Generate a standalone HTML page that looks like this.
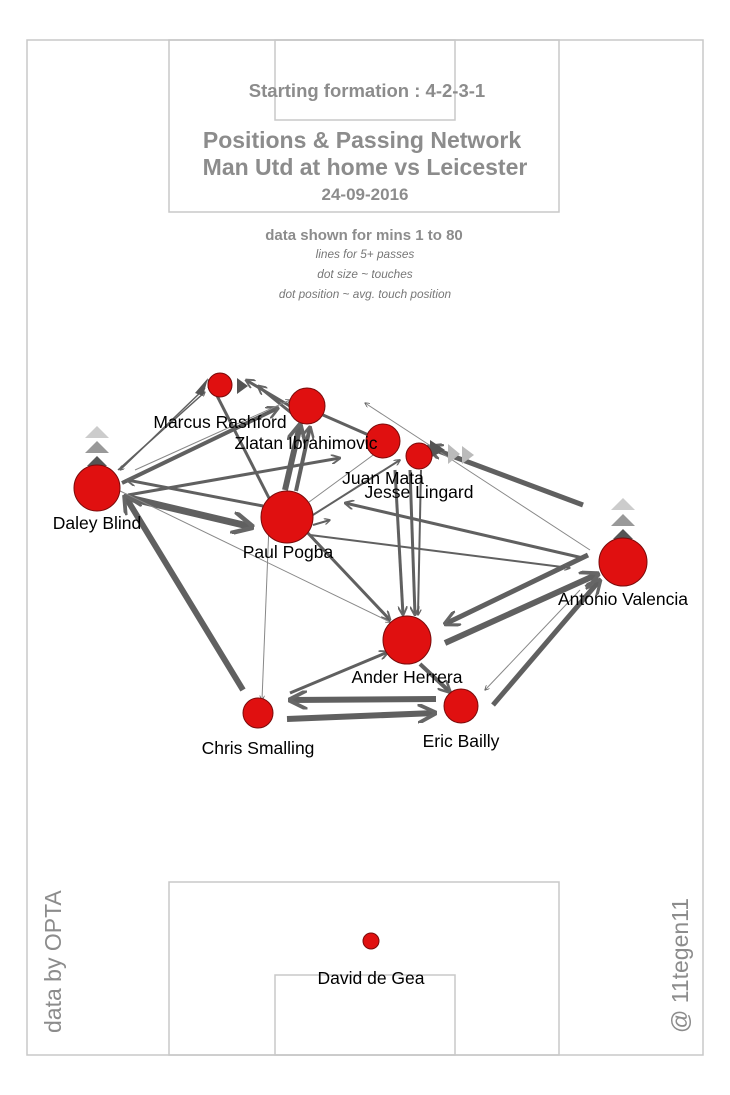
<!DOCTYPE html>
<html><head><meta charset="utf-8"><style>
body{margin:0;background:#fff}
svg{display:block}
text{font-family:"Liberation Sans",sans-serif}
</style></head><body>
<svg width="730" height="1095" viewBox="0 0 730 1095" xmlns="http://www.w3.org/2000/svg">
<defs>
<marker id="a" viewBox="0 0 10 10" refX="9" refY="5" markerWidth="5" markerHeight="5" orient="auto" markerUnits="userSpaceOnUse"><path d="M0,0 L10,5 L0,10" fill="none" stroke="#555" stroke-width="1.5"/></marker>
<marker id="b" viewBox="0 0 10 10" refX="9" refY="5" markerWidth="3.2" markerHeight="3.2" orient="auto"><path d="M0,0 L10,5 L0,10" fill="none" stroke="#666" stroke-width="2"/></marker>
</defs>
<rect x="0" y="0" width="730" height="1095" fill="#fff"/>
<g fill="none" stroke="#c8c8c8" stroke-width="1.5">
<rect x="27" y="40" width="676" height="1015"/>
<rect x="169" y="40" width="390" height="172"/>
<rect x="275" y="40" width="180" height="80"/>
<rect x="169" y="882" width="390" height="173"/>
<rect x="275" y="975" width="180" height="80"/>
</g>
<g fill="#8c8c8c" font-weight="bold" text-anchor="middle">
<text x="367" y="97" font-size="18.5">Starting formation : 4-2-3-1</text>
<text x="362" y="148" font-size="23">Positions &amp; Passing Network</text>
<text x="365" y="175" font-size="23">Man Utd at home vs Leicester</text>
<text x="365" y="200" font-size="17">24-09-2016</text>
<text x="364" y="240" font-size="15">data shown for mins 1 to 80</text>
</g>
<g fill="#777" font-style="italic" font-size="11.8" text-anchor="middle">
<text x="365" y="258">lines for 5+ passes</text>
<text x="365" y="278">dot size ~ touches</text>
<text x="365" y="298">dot position ~ avg. touch position</text>
</g>
<text transform="translate(61,1033) rotate(-90)" font-size="23" fill="#8c8c8c">data by OPTA</text>
<text transform="translate(688,1033) rotate(-90)" font-size="23" fill="#8c8c8c">@ 11tegen11</text>
<g stroke="#606060" fill="none" marker-end="url(#b)">
<line x1="125" y1="497" x2="252" y2="527" stroke-width="7"/>
<line x1="243" y1="690" x2="125" y2="496" stroke-width="6"/>
<line x1="285" y1="490" x2="300" y2="425" stroke-width="6"/>
<line x1="296" y1="491" x2="310" y2="427" stroke-width="4"/>
<line x1="287" y1="719" x2="435" y2="713" stroke-width="6"/>
<line x1="436" y1="699" x2="290" y2="700" stroke-width="6"/>
<line x1="445" y1="643" x2="598" y2="574" stroke-width="6"/>
<line x1="588" y1="555" x2="445" y2="624" stroke-width="5"/>
<line x1="493" y1="705" x2="600" y2="580" stroke-width="5"/>
<line x1="583" y1="505" x2="428" y2="447" stroke-width="5"/>
<line x1="300" y1="420" x2="258" y2="386" stroke-width="3"/>
<line x1="300" y1="412" x2="246" y2="380" stroke-width="3"/>
<line x1="122" y1="483" x2="278" y2="408" stroke-width="4"/>
<line x1="128" y1="495" x2="340" y2="458" stroke-width="3"/>
<line x1="263" y1="506" x2="127" y2="480" stroke-width="3"/>
<line x1="270" y1="500" x2="209" y2="380" stroke-width="3"/>
<line x1="583" y1="558" x2="345" y2="503" stroke-width="3"/>
<line x1="310" y1="535" x2="570" y2="568" stroke-width="2"/>
<line x1="313" y1="525" x2="330" y2="520" stroke-width="2"/>
<line x1="395" y1="470" x2="403" y2="615" stroke-width="3"/>
<line x1="410" y1="470" x2="415" y2="615" stroke-width="3"/>
<line x1="421" y1="470" x2="418" y2="615" stroke-width="2"/>
<line x1="305" y1="530" x2="390" y2="620" stroke-width="3"/>
<line x1="290" y1="693" x2="388" y2="652" stroke-width="3"/>
<line x1="420" y1="664" x2="450" y2="692" stroke-width="4"/>
<line x1="305" y1="520" x2="400" y2="460" stroke-width="2"/>
<line x1="323" y1="415" x2="380" y2="440" stroke-width="3"/>
<line x1="118" y1="470" x2="205" y2="392" stroke-width="1.5"/>
<line x1="205" y1="388" x2="120" y2="470" stroke-width="1.5"/>
</g>
<g stroke="#888" fill="none" stroke-width="1" marker-end="url(#a)">
<line x1="270" y1="500" x2="262" y2="700"/>
<line x1="118" y1="490" x2="390" y2="622"/>
<line x1="590" y1="550" x2="365" y2="403"/>
<line x1="580" y1="590" x2="485" y2="690"/>
<line x1="305" y1="505" x2="380" y2="450"/>
<line x1="135" y1="470" x2="290" y2="400"/>
</g>
<g fill="#555">
<path d="M195,393 L208,378 L203,396 Z"/>
<path d="M237,378 L248,386 L237,394 Z"/>
<path d="M430,440 L445,450 L430,458 Z" />
</g>
<g fill="#bbb"><path d="M448,444 L460,454 L448,464 Z"/><path d="M462,446 L474,455 L462,464 Z"/></g>
<g>
<path d="M85,438 L109,438 L97,426 Z" fill="#ccc"/>
<path d="M85,453 L109,453 L97,441 Z" fill="#999"/>
<path d="M87,466 L107,466 L97,456 Z" fill="#555"/>
<path d="M611,510 L635,510 L623,498 Z" fill="#ccc"/>
<path d="M611,526 L635,526 L623,514 Z" fill="#999"/>
<path d="M613,539 L633,539 L623,529 Z" fill="#555"/>
</g>
<g fill="#e01010" stroke="#7a0a0a" stroke-width="1">
<circle cx="220" cy="385" r="12"/>
<circle cx="307" cy="406" r="18"/>
<circle cx="383" cy="441" r="17"/>
<circle cx="419" cy="456" r="13"/>
<circle cx="97" cy="488" r="23"/>
<circle cx="287" cy="517" r="26"/>
<circle cx="623" cy="562" r="24"/>
<circle cx="407" cy="640" r="24"/>
<circle cx="461" cy="706" r="17"/>
<circle cx="258" cy="713" r="15"/>
<circle cx="371" cy="941" r="8"/>
</g>
<g font-size="17.5" fill="#000" text-anchor="middle">
<text x="220" y="428">Marcus Rashford</text>
<text x="306" y="449">Zlatan Ibrahimovic</text>
<text x="383" y="484">Juan Mata</text>
<text x="419" y="498">Jesse Lingard</text>
<text x="97" y="529">Daley Blind</text>
<text x="288" y="558">Paul Pogba</text>
<text x="623" y="605">Antonio Valencia</text>
<text x="407" y="683">Ander Herrera</text>
<text x="461" y="747">Eric Bailly</text>
<text x="258" y="754">Chris Smalling</text>
<text x="371" y="984">David de Gea</text>
</g>
</svg>
</body></html>
